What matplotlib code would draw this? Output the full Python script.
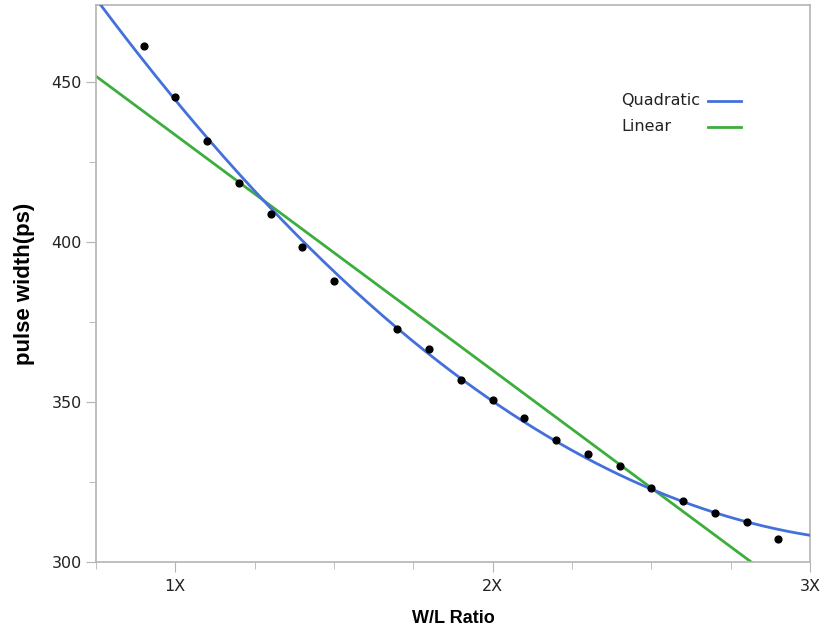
import numpy as np
import matplotlib
matplotlib.use("Agg")
import matplotlib.pyplot as plt
from matplotlib.ticker import MultipleLocator

wl_ratio = [0.9, 1.0, 1.1, 1.2, 1.3, 1.4, 1.5, 1.7, 1.8, 1.9,
            2.0, 2.1, 2.2, 2.3, 2.4, 2.5, 2.6, 2.7, 2.8, 2.9]
pulse_width = [461.3, 445.3, 431.6, 418.4, 408.8, 398.4, 387.8, 372.8, 366.6, 356.9,
               350.6, 345.0, 338.1, 333.8, 330.0, 323.1, 319.0, 315.3, 312.5, 307.2]
x_tick_pos = [1, 2, 3]
x_tick_labels = ["1X", "2X", "3X"]
y_ticks = [300, 350, 400, 450]
fit_names = ["Quadratic", "Linear"]
fit_colors = ["#4470dc", "#3cae3c"]

x = np.array(wl_ratio)
y = np.array(pulse_width)
quad = np.polyfit(x, y, 2)
lin = np.polyfit(x, y, 1)
xs = np.linspace(0.75, 3.0, 300)

fig = plt.figure(figsize=(8.24, 6.34), dpi=100)
ax = fig.add_axes([0.1165, 0.1136, 0.8665, 0.8785])

ax.plot(xs, np.polyval(quad, xs), color=fit_colors[0], lw=2.0, zorder=3)
ax.plot(xs, np.polyval(lin, xs), color=fit_colors[1], lw=2.0, zorder=2)
ax.scatter(x, y, s=24, color="black", zorder=4)

ax.set_xlim(0.75, 3.0)
ax.set_ylim(300, 474)
ax.set_xticks(x_tick_pos)
ax.set_xticklabels(x_tick_labels)
ax.set_yticks(y_ticks)
ax.xaxis.set_minor_locator(MultipleLocator(0.25))
ax.yaxis.set_minor_locator(MultipleLocator(25))

for s in ax.spines.values():
    s.set_color("#b4b4b4")
    s.set_linewidth(1.2)
ax.tick_params(which="both", color="#b4b4b4", direction="out")
ax.tick_params(which="major", length=7, labelsize=11.5, labelcolor="#222222", pad=3)
ax.tick_params(axis="x", which="major", pad=5)
ax.tick_params(which="minor", length=5)

ax.set_xlabel("W/L Ratio", fontsize=13, fontweight="bold", family="Liberation Sans", labelpad=12)
ax.set_ylabel("pulse width(ps)", fontsize=16, fontweight="bold", family="Liberation Sans", labelpad=12)

# legend: label text on the left, line sample to the right
for i, (name, col) in enumerate(zip(fit_names, fit_colors)):
    yy = 0.828 - i * 0.047
    ax.text(0.736, yy, name, transform=ax.transAxes, fontsize=11.5,
            color="#222222", va="center", ha="left")
    ax.plot([0.857, 0.903], [yy, yy], transform=ax.transAxes, color=col, lw=2.0)

fig.savefig("out.png", dpi=100)
